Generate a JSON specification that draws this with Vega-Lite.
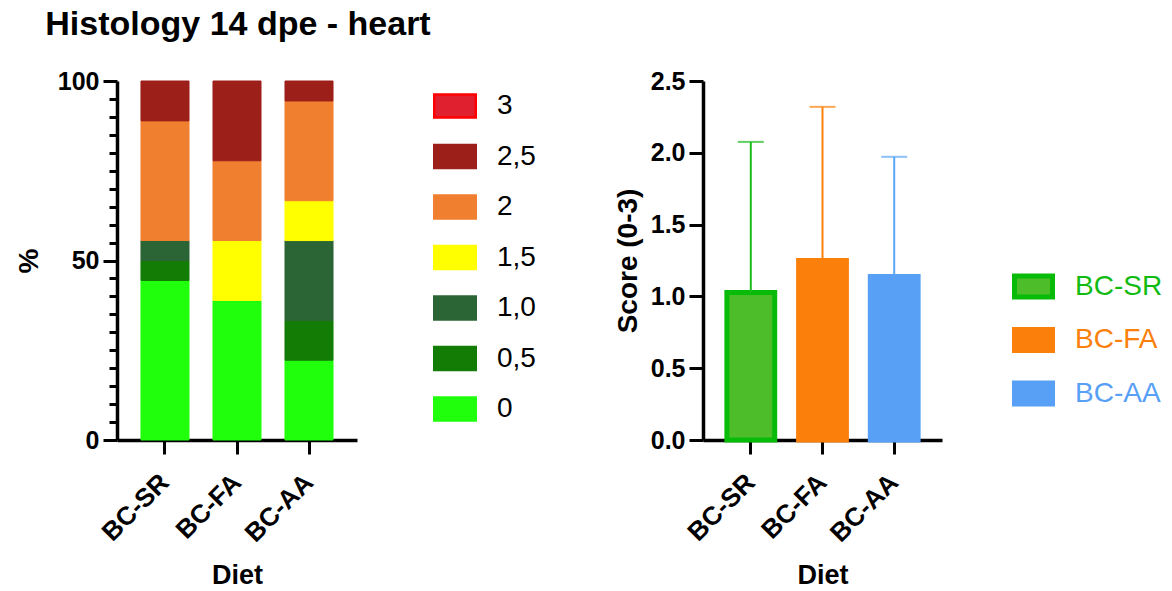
{
  "$schema": "https://vega.github.io/schema/vega-lite/v6.json",
  "background": "white",
  "padding": {"left": 15, "top": 8, "right": 5, "bottom": 2},
  "title": {
    "text": "Histology 14 dpe - heart",
    "anchor": "start",
    "dx": 30,
    "font": "Liberation Sans",
    "fontSize": 34,
    "fontWeight": "bold",
    "color": "black",
    "offset": 27
  },
  "config": {
    "view": {"stroke": null},
    "font": "Liberation Sans",
    "axis": {
      "grid": false,
      "domainColor": "black",
      "domainWidth": 3.5,
      "tickColor": "black",
      "tickWidth": 3,
      "tickSize": 14,
      "labelPadding": 4,
      "labelFont": "Liberation Sans",
      "labelFontWeight": "bold",
      "labelFontSize": 25,
      "labelColor": "black",
      "titleFont": "Liberation Sans",
      "titleFontWeight": "bold",
      "titleFontSize": 28,
      "titleColor": "black"
    },
    "legend": {
      "orient": "none",
      "title": null,
      "padding": 0,
      "rowPadding": 11.5,
      "labelOffset": 20,
      "labelFont": "Liberation Sans",
      "labelFontSize": 28,
      "labelColor": "black"
    }
  },
  "resolve": {"scale": {"fill": "independent", "stroke": "independent", "color": "independent"}},
  "spacing": 78,
  "hconcat": [
    {
      "width": 240,
      "height": 359,
      "data": {
        "values": [
          {"Diet": "BC-SR", "Score": "0", "Percent": 44.44},
          {"Diet": "BC-SR", "Score": "0,5", "Percent": 5.56},
          {"Diet": "BC-SR", "Score": "1,0", "Percent": 5.56},
          {"Diet": "BC-SR", "Score": "2", "Percent": 33.33},
          {"Diet": "BC-SR", "Score": "2,5", "Percent": 11.11},
          {"Diet": "BC-FA", "Score": "0", "Percent": 38.89},
          {"Diet": "BC-FA", "Score": "1,5", "Percent": 16.67},
          {"Diet": "BC-FA", "Score": "2", "Percent": 22.22},
          {"Diet": "BC-FA", "Score": "2,5", "Percent": 22.22},
          {"Diet": "BC-AA", "Score": "0", "Percent": 22.22},
          {"Diet": "BC-AA", "Score": "0,5", "Percent": 11.11},
          {"Diet": "BC-AA", "Score": "1,0", "Percent": 22.22},
          {"Diet": "BC-AA", "Score": "1,5", "Percent": 11.11},
          {"Diet": "BC-AA", "Score": "2", "Percent": 27.78},
          {"Diet": "BC-AA", "Score": "2,5", "Percent": 5.56}
        ]
      },
      "mark": {"type": "bar", "strokeWidth": 1},
      "encoding": {
        "x": {
          "field": "Diet",
          "type": "nominal",
          "sort": ["BC-SR", "BC-FA", "BC-AA"],
          "scale": {"paddingInner": 0.333, "paddingOuter": 0.333},
          "axis": {"labelAngle": -45, "labelBaseline": "middle", "labelPadding": 24, "labelFontSize": 26, "title": "Diet", "titleFontSize": 27, "titlePadding": 16}
        },
        "y": {
          "field": "Percent",
          "type": "quantitative",
          "stack": "zero",
          "scale": {"domain": [0, 100], "nice": false},
          "axis": {
            "title": "%",
            "titlePadding": 14,
            "values": [0, 5, 10, 15, 20, 25, 30, 35, 40, 45, 50, 55, 60, 65, 70, 75, 80, 85, 90, 95, 100],
            "labelExpr": "datum.value % 50 === 0 ? datum.label : ''",
            "tickSize": {"condition": {"test": "datum.value % 50 === 0", "value": 14}, "value": 8}
          }
        },
        "order": {"field": "Score", "sort": "ascending"},
        "fill": {
          "field": "Score",
          "type": "nominal",
          "scale": {
            "domain": ["3", "2,5", "2", "1,5", "1,0", "0,5", "0"],
            "range": ["#E0202E", "#9C1F1A", "#F08030", "#FFFF00", "#2B6535", "#127C04", "#20FF0C"]
          },
          "legend": {
            "legendX": 316,
            "legendY": 3,
            "symbolType": "M-1,-0.55H1V0.55H-1Z",
            "symbolSize": 1722,
            "symbolStrokeWidth": 2.5
          }
        },
        "stroke": {
          "field": "Score",
          "type": "nominal",
          "scale": {
            "domain": ["3", "2,5", "2", "1,5", "1,0", "0,5", "0"],
            "range": ["#FF0000", "#9C1F1A", "#F08030", "#FFFF00", "#2B6535", "#127C04", "#20FF0C"]
          },
          "legend": {
            "legendX": 316,
            "legendY": 3,
            "symbolType": "M-1,-0.55H1V0.55H-1Z",
            "symbolSize": 1722,
            "symbolStrokeWidth": 2.5
          }
        }
      }
    },
    {
      "width": 239,
      "height": 359,
      "data": {
        "values": [
          {"Diet": "BC-SR", "Score": 1.028, "Upper": 2.076},
          {"Diet": "BC-FA", "Score": 1.25, "Upper": 2.32},
          {"Diet": "BC-AA", "Score": 1.139, "Upper": 1.972}
        ]
      },
      "encoding": {
        "x": {
          "field": "Diet",
          "type": "nominal",
          "sort": ["BC-SR", "BC-FA", "BC-AA"],
          "scale": {"paddingInner": 0.333, "paddingOuter": 0.333},
          "axis": {"labelAngle": -45, "labelBaseline": "middle", "labelPadding": 24, "labelFontSize": 26, "title": "Diet", "titleFontSize": 27, "titlePadding": 16}
        }
      },
      "layer": [
        {
          "mark": {"type": "bar", "strokeWidth": 5},
          "encoding": {
            "y": {
              "field": "Score",
              "type": "quantitative",
              "scale": {"domain": [0, 2.5], "nice": false},
              "axis": {
                "title": "Score (0-3)",
                "titlePadding": 8,
                "values": [0, 0.5, 1, 1.5, 2, 2.5],
                "format": ".1f"
              }
            },
            "fill": {
              "field": "Diet",
              "type": "nominal",
              "sort": ["BC-SR", "BC-FA", "BC-AA"],
              "scale": {"domain": ["BC-SR", "BC-FA", "BC-AA"], "range": ["#4DBE2A", "#FA800B", "#57A0F5"]},
              "legend": {
                "legendX": 309,
                "legendY": 184,
                "symbolType": "M-1,-0.55H1V0.55H-1Z",
                "symbolSize": 1444,
                "symbolStrokeWidth": 5,
                "encode": {
                  "labels": {
                    "update": {
                      "fill": {"signal": "datum.value === 'BC-SR' ? '#12BB12' : datum.value === 'BC-FA' ? '#FA800B' : '#57A0F5'"}
                    }
                  }
                }
              }
            },
            "stroke": {
              "field": "Diet",
              "type": "nominal",
              "sort": ["BC-SR", "BC-FA", "BC-AA"],
              "scale": {"domain": ["BC-SR", "BC-FA", "BC-AA"], "range": ["#08BB08", "#FA800B", "#57A0F5"]},
              "legend": {
                "legendX": 309,
                "legendY": 184,
                "symbolType": "M-1,-0.55H1V0.55H-1Z",
                "symbolSize": 1444,
                "symbolStrokeWidth": 5,
                "encode": {
                  "labels": {
                    "update": {
                      "fill": {"signal": "datum.value === 'BC-SR' ? '#12BB12' : datum.value === 'BC-FA' ? '#FA800B' : '#57A0F5'"}
                    }
                  }
                }
              }
            }
          }
        },
        {
          "mark": {"type": "rule", "strokeWidth": 2},
          "encoding": {
            "y": {"field": "Score", "type": "quantitative"},
            "y2": {"field": "Upper"},
            "color": {
              "field": "Diet",
              "type": "nominal",
              "scale": {"domain": ["BC-SR", "BC-FA", "BC-AA"], "range": ["#1DBB1D", "#FA800B", "#5AA5F5"]},
              "legend": null
            }
          }
        },
        {
          "mark": {"type": "tick", "thickness": 2, "size": 26},
          "encoding": {
            "y": {"field": "Upper", "type": "quantitative"},
            "color": {
              "field": "Diet",
              "type": "nominal",
              "scale": {"domain": ["BC-SR", "BC-FA", "BC-AA"], "range": ["#1DBB1D", "#FA800B", "#5AA5F5"]},
              "legend": null
            }
          }
        }
      ]
    }
  ]
}
